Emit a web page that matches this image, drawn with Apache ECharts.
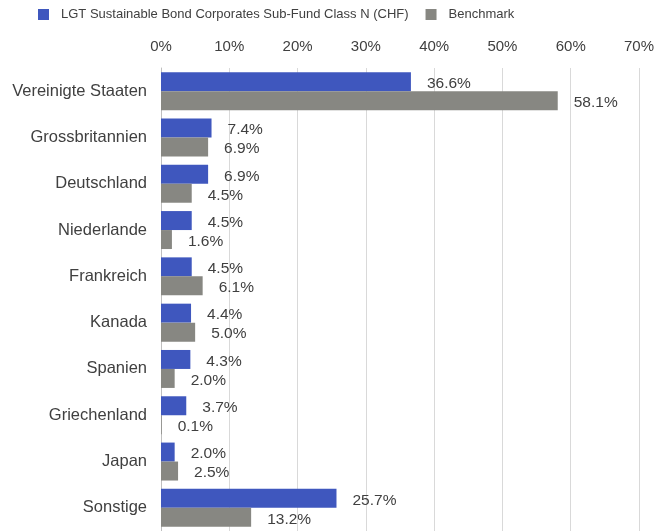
<!DOCTYPE html>
<html><head><meta charset="utf-8">
<script src="https://cdn.jsdelivr.net/npm/echarts@6/dist/echarts.min.js"></script>
<style>html,body{margin:0;padding:0;background:#fff}#c{width:657px;height:531px}</style>
</head><body><div id="c"></div>
<script>
const categories = ["Vereinigte Staaten","Grossbritannien","Deutschland","Niederlande","Frankreich","Kanada","Spanien","Griechenland","Japan","Sonstige"];
const fundValues = [36.6,7.4,6.9,4.5,4.5,4.4,4.3,3.7,2.0,25.7];
const benchValues = [58.1,6.9,4.5,1.6,6.1,5.0,2.0,0.1,2.5,13.2];
const seriesNames = ["LGT Sustainable Bond Corporates Sub-Fund Class N (CHF)","Benchmark"];
const ff = "Liberation Sans";
const txt = "#404040";
const chart = echarts.init(document.getElementById('c'));
const lbl = {show:true, position:'right', distance:16, offset:[0,2], color:txt, fontSize:15.5, fontFamily:ff, formatter:p=>p.value.toFixed(1)+'%'};
chart.setOption({
  animation:false,
  textStyle:{fontFamily:ff},
  legend:{top:3,left:33,itemWidth:11,itemHeight:11,itemGap:17,icon:'rect',
    textStyle:{color:txt,fontSize:13,fontFamily:ff,padding:[0,0,0,7]}, data:seriesNames},
  grid:{left:161,top:68,width:478,height:463,containLabel:false},
  xAxis:{type:'value',position:'top',min:0,max:70,interval:10,
    axisLabel:{formatter:'{value}%',color:txt,fontSize:15,fontFamily:ff,margin:14},
    axisLine:{show:false},axisTick:{show:false},
    splitLine:{lineStyle:{color:'#d9d9d9',width:1}}},
  yAxis:{type:'category',inverse:true,data:categories,
    axisLabel:{color:txt,fontSize:16.5,fontFamily:ff,margin:14},
    axisLine:{show:true,lineStyle:{color:'#bfbfbf'}},axisTick:{show:false}},
  series:[
    {name:seriesNames[0],type:'bar',data:fundValues,barCategoryGap:'18%',barGap:'0%',
      itemStyle:{color:'#3f57be'},label:lbl},
    {name:seriesNames[1],type:'bar',data:benchValues,barCategoryGap:'18%',barGap:'0%',
      itemStyle:{color:'#878782'},label:lbl}
  ]
});
</script></body></html>
